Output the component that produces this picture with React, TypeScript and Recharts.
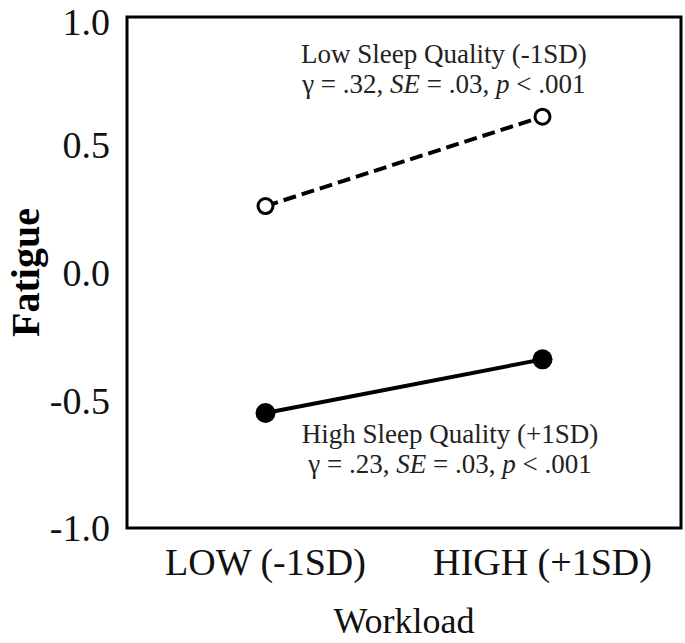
import React from 'react'
import {
  LineChart,
  Line,
  XAxis,
  YAxis,
  ReferenceArea,
  ReferenceDot,
} from 'recharts'

const workloadLabels = ['LOW (-1SD)', 'HIGH (+1SD)']
const workloadX = [0, 1]
const lowSleepQuality = [0.26, 0.61]
const highSleepQuality = [-0.55, -0.34]
const fatigueTicks = [-1, -0.5, 0, 0.5, 1]

const data = workloadX.map((x, i) => ({
  x,
  low: lowSleepQuality[i],
  high: highSleepQuality[i],
}))

const serif = '"Liberation Serif", "Times New Roman", serif'

function OpenDot(props: any) {
  const { cx, cy, index } = props
  return <circle key={'o' + index} cx={cx} cy={cy} r={7.5} fill="#fff" stroke="#000" strokeWidth={3} />
}

function FilledDot(props: any) {
  const { cx, cy, index } = props
  return <circle key={'f' + index} cx={cx} cy={cy} r={10} fill="#000" stroke="none" />
}

function annotation(title: string, gamma: string) {
  return (props: any) => {
    const { viewBox } = props
    const x = viewBox.x + viewBox.width / 2
    const y = viewBox.y + viewBox.height / 2
    return (
      <text x={x} y={y} textAnchor="middle" fontSize={27} fill="#222" fontFamily={serif}>
        <tspan x={x} y={y}>{title}</tspan>
        <tspan x={x} y={y + 30}>
          {'γ = ' + gamma + ', '}
          <tspan fontStyle="italic">SE</tspan>
          {' = .03, '}
          <tspan fontStyle="italic">p</tspan>
          {' < .001'}
        </tspan>
      </text>
    )
  }
}

function FatigueLabel(props: any) {
  const { viewBox } = props
  const x = viewBox.x + 39
  const y = viewBox.y + viewBox.height / 2
  return (
    <text
      x={x}
      y={y}
      transform={`rotate(-90, ${x}, ${y})`}
      textAnchor="middle"
      fontSize={40}
      fontWeight="bold"
      fill="#000"
      fontFamily={serif}
    >
      Fatigue
    </text>
  )
}

export default function App() {
  return (
    <div style={{ position: 'absolute', left: 0, top: 0, background: '#fff', fontFamily: serif }}>
      <LineChart width={685} height={643} data={data} margin={{ top: 17, right: 4, bottom: 0, left: 0 }}>
        <XAxis
          dataKey="x"
          type="number"
          domain={[-0.5, 1.5]}
          ticks={workloadX}
          tickFormatter={(v: number) => workloadLabels[v] ?? ''}
          height={115}
          axisLine={false}
          tickLine={false}
          tickSize={0}
          tickMargin={20}
          tick={{ fill: '#111', fontSize: 38 }}
          label={{ value: 'Workload', position: 'insideBottom', offset: 10, fontSize: 36, fill: '#111' }}
        />
        <YAxis
          type="number"
          domain={[-1, 1]}
          ticks={fatigueTicks}
          tickFormatter={(v: number) => v.toFixed(1)}
          width={127}
          axisLine={false}
          tickLine={false}
          tickSize={0}
          tickMargin={17}
          tick={{ fill: '#111', fontSize: 38 }}
          label={{ content: FatigueLabel }}
        />
        <ReferenceArea
          x1={-0.5}
          x2={1.5}
          y1={-1}
          y2={1}
          fill="none"
          fillOpacity={0}
          stroke="#000"
          strokeWidth={3}
        />
        <ReferenceDot
          x={0.644}
          y={0.82}
          r={0}
          fill="none"
          stroke="none"
          label={{ content: annotation('Low Sleep Quality (-1SD)', '.32') }}
        />
        <ReferenceDot
          x={0.666}
          y={-0.667}
          r={0}
          fill="none"
          stroke="none"
          label={{ content: annotation('High Sleep Quality (+1SD)', '.23') }}
        />
        <Line
          dataKey="low"
          stroke="#000"
          strokeWidth={4}
          strokeDasharray="13 6"
          dot={OpenDot}
          activeDot={false}
          isAnimationActive={false}
        />
        <Line
          dataKey="high"
          stroke="#000"
          strokeWidth={4}
          dot={FilledDot}
          activeDot={false}
          isAnimationActive={false}
        />
      </LineChart>
    </div>
  )
}
